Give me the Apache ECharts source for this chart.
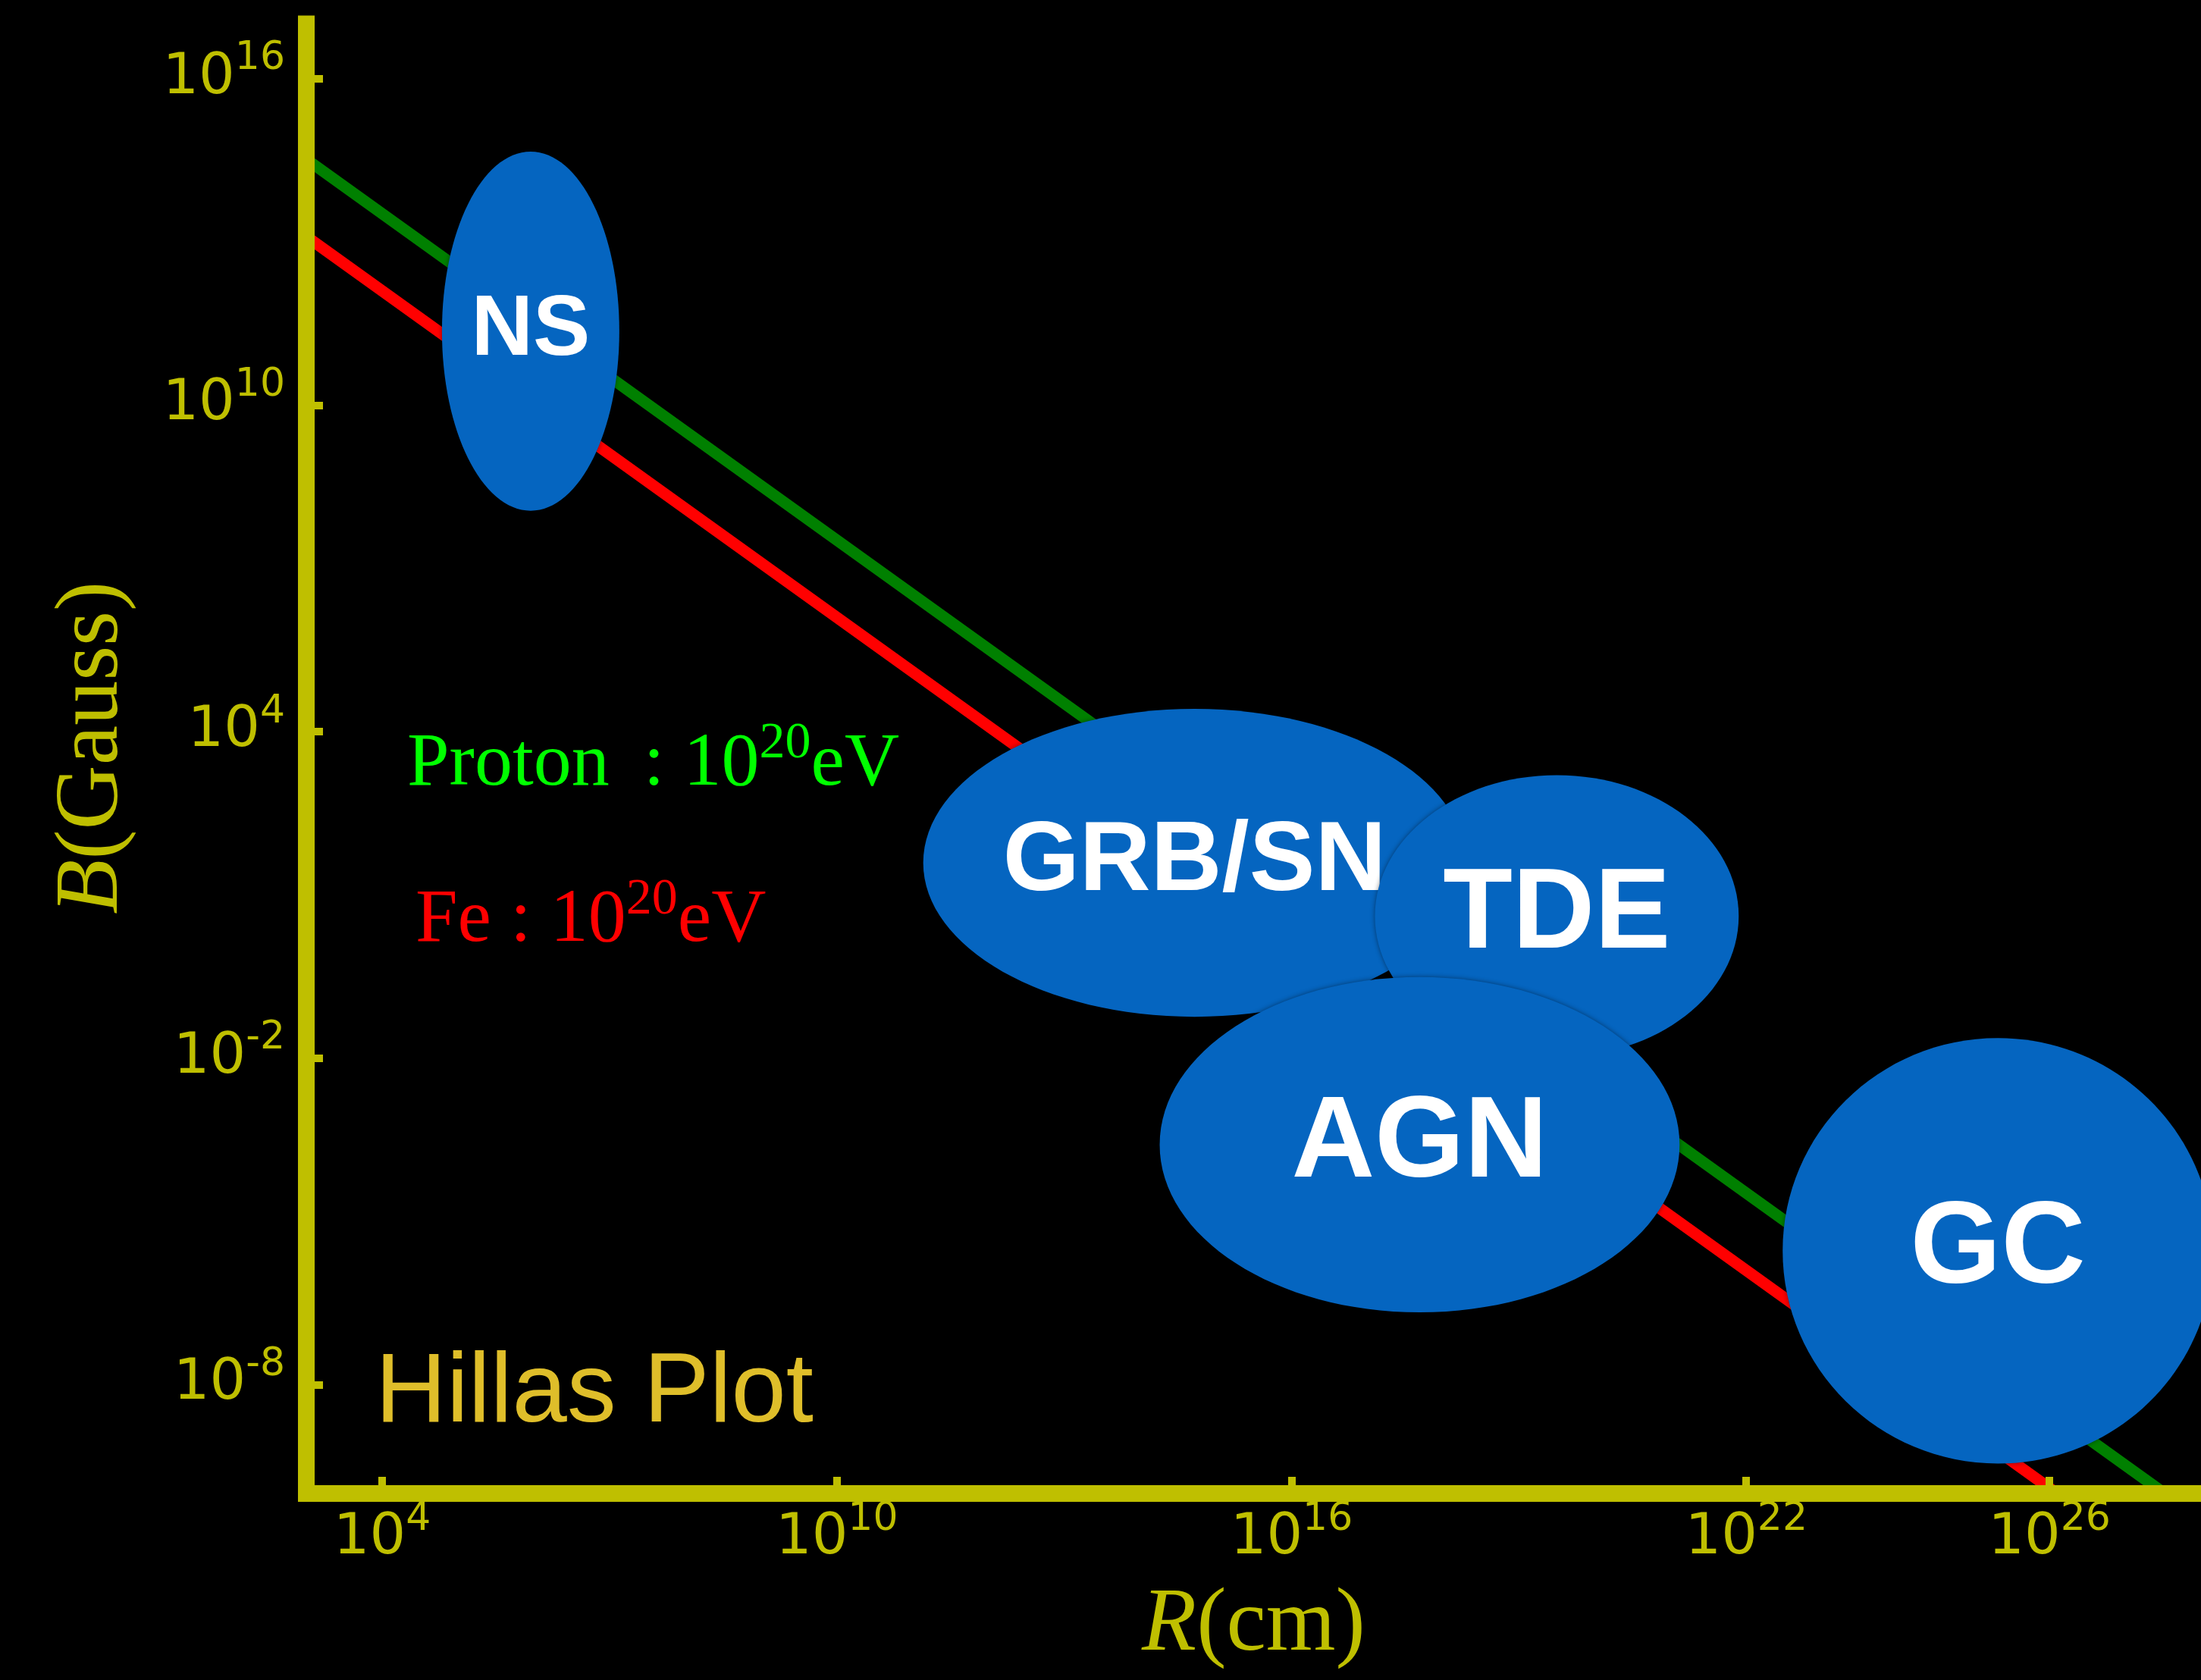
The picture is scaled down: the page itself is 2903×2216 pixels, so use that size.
<!DOCTYPE html>
<html>
<head>
<meta charset="utf-8">
<script src="https://cdn.jsdelivr.net/npm/echarts@6/dist/echarts.min.js"></script>
<style>
  html, body { margin: 0; padding: 0; background: #000; }
  #chart { width: 2903px; height: 2216px; }
</style>
</head>
<body>
<div id="chart"></div>
<script>
// ---- data (log10 values) ----
const xTickExponents = [4, 10, 16, 22, 26];
const yTickExponents = [-8, -2, 4, 10, 16];

const protonLogR = [3, 28];
const protonLogB = [14.52, -10.48];
const ironLogR = [3, 28];
const ironLogB = [13.10, -11.90];

const sourceNames = ['NS', 'GRB/SN', 'TDE', 'AGN', 'GC'];
const sourceLogR = [5.96, 14.72, 19.50, 17.69, 25.32];
const sourceLogB = [11.36, 1.59, 0.61, -3.59, -5.54];
const sourceHalfWidth = [1.17, 3.58, 2.40, 3.43, 2.84];   // decades in R
const sourceHalfHeight = [3.30, 2.83, 2.59, 3.08, 3.91];  // decades in B

const legendTexts = [
  { base: 'Proton\u2009 : 10', sup: '20', tail: 'eV' },
  { base: 'Fe : 10', sup: '20', tail: 'eV' }
];

// ---- styles ----
const AX = '#bfbf00';
const labelFontSize = { 'NS': 113, 'GRB/SN': 130, 'TDE': 150, 'AGN': 152, 'GC': 154 };

const tickRich = {
  b: { fontFamily: 'DejaVu Sans', fontSize: 75, color: AX, verticalAlign: 'bottom' },
  s: { fontFamily: 'DejaVu Sans', fontSize: 52, color: AX, verticalAlign: 'top', padding: [0, 0, 37, 0] }
};
const tickFormatter = v => '{b|10}{s|' + v + '}';

const nameRich = {
  i: { fontFamily: 'Liberation Serif', fontStyle: 'italic', fontSize: 118, color: AX },
  n: { fontFamily: 'Liberation Serif', fontSize: 118, color: AX }
};

const legendRich = (color) => ({
  a: { fontFamily: 'Liberation Serif', fontSize: 100, fill: color, verticalAlign: 'bottom' },
  s: { fontFamily: 'Liberation Serif', fontSize: 68, fill: color, verticalAlign: 'top', padding: [0, 0, 44, 0] }
});

const protonData = protonLogR.map((r, i) => [r, protonLogB[i]]);
const ironData = ironLogR.map((r, i) => [r, ironLogB[i]]);
const sourceData = sourceNames.map((n, i) => [sourceLogR[i], sourceLogB[i], sourceHalfWidth[i], sourceHalfHeight[i]]);

const chart = echarts.init(document.getElementById('chart'), null, { renderer: 'canvas', devicePixelRatio: 1 });

chart.setOption({
  backgroundColor: '#000',
  animation: false,
  grid: { left: 404, top: 20.5, right: 0, bottom: 246, containLabel: false },
  xAxis: {
    type: 'value', min: 3, max: 28, z: 5,
    name: '{i|R}{n|(cm)}', nameLocation: 'middle', nameGap: 116,
    nameTextStyle: { rich: nameRich },
    axisLine: { show: true, onZero: false, lineStyle: { color: AX, width: 22, cap: 'square' } },
    axisTick: { show: true, inside: true, length: 22, customValues: xTickExponents, lineStyle: { color: AX, width: 10 } },
    axisLabel: { show: true, margin: 8, customValues: xTickExponents, formatter: tickFormatter, rich: tickRich },
    splitLine: { show: false }
  },
  yAxis: {
    type: 'value', min: -10, max: 17.16, z: 5,
    name: '{i|B}{n|(Gauss)}', nameLocation: 'middle', nameGap: 222,
    nameTextStyle: { rich: nameRich, padding: [0, 0, 0, 18] },
    axisLine: { show: true, onZero: false, lineStyle: { color: AX, width: 22, cap: 'butt' } },
    axisTick: { show: true, inside: true, length: 22, customValues: yTickExponents, lineStyle: { color: AX, width: 10 } },
    axisLabel: { show: true, margin: 28, padding: [0, 0, 15, 0], customValues: yTickExponents, formatter: tickFormatter, rich: tickRich },
    splitLine: { show: false }
  },
  series: [
    {
      name: 'Proton', type: 'line', data: protonData, showSymbol: false, symbol: 'none', clip: true, z: 2,
      lineStyle: { color: '#008000', width: 15 }
    },
    {
      name: 'Fe', type: 'line', data: ironData, showSymbol: false, symbol: 'none', clip: true, z: 2,
      lineStyle: { color: '#ff0000', width: 15 }
    },
    {
      name: 'Sources', type: 'custom', z: 3, clip: false,
      encode: { x: 0, y: 1 },
      data: sourceData,
      renderItem: function (params, api) {
        const c = api.coord([api.value(0), api.value(1)]);
        const s = api.size([api.value(2), api.value(3)]);
        const name = sourceNames[params.dataIndex];
        return {
          type: 'group',
          children: [
            {
              type: 'ellipse',
              shape: { cx: c[0], cy: c[1], rx: s[0], ry: s[1] },
              style: { fill: '#0565c0', shadowBlur: 6, shadowColor: 'rgba(0,0,0,0.45)' }
            },
            {
              type: 'text',
              style: {
                text: name, x: c[0], y: c[1], fill: '#ffffff',
                fontSize: labelFontSize[name], fontWeight: 'bold', fontFamily: 'Liberation Sans',
                align: 'center', verticalAlign: 'middle'
              }
            }
          ]
        };
      }
    }
  ],
  graphic: [
    {
      type: 'text', x: 495, y: 1839, z: 10,
      style: { text: 'Hillas Plot', fill: '#dfbe2a', fontSize: 130, fontFamily: 'Liberation Sans', verticalAlign: 'middle', align: 'left' }
    },
    {
      type: 'text', x: 537, y: 947, z: 10,
      style: {
        text: '{a|' + legendTexts[0].base + '}{s|' + legendTexts[0].sup + '}{a|' + legendTexts[0].tail + '}',
        rich: legendRich('#00ff00'), fill: '#00ff00', verticalAlign: 'top', align: 'left'
      }
    },
    {
      type: 'text', x: 548, y: 1153, z: 10,
      style: {
        text: '{a|' + legendTexts[1].base + '}{s|' + legendTexts[1].sup + '}{a|' + legendTexts[1].tail + '}',
        rich: legendRich('#ff0000'), fill: '#ff0000', verticalAlign: 'top', align: 'left'
      }
    }
  ]
});
</script>
</body>
</html>
